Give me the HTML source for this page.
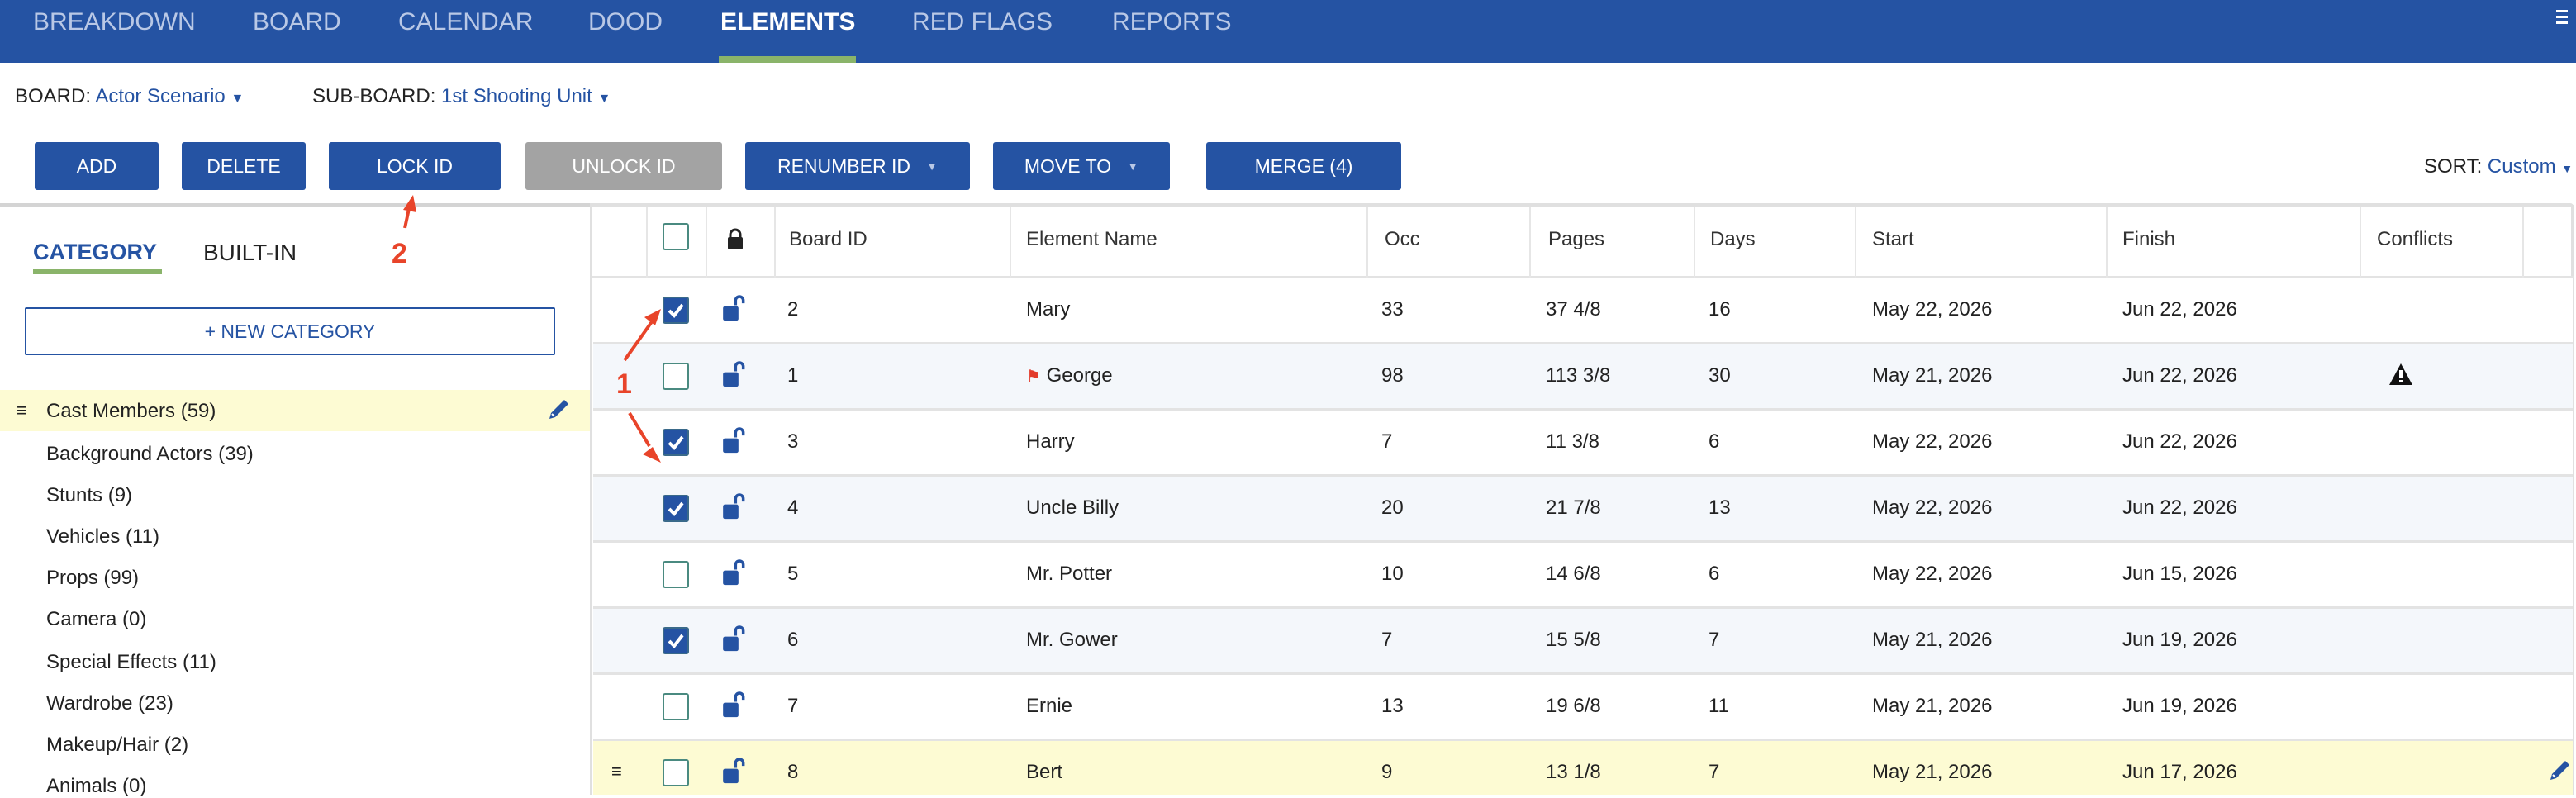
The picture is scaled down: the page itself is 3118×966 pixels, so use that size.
<!DOCTYPE html>
<html><head><meta charset="utf-8"><style>
*{margin:0;padding:0;box-sizing:border-box}
body{width:3118px;height:962px;overflow:hidden;background:#fff;font-family:"Liberation Sans",Arial,sans-serif;color:#222;position:relative}
.a{position:absolute;white-space:nowrap}
.nav{position:absolute;left:0;top:0;width:3118px;height:76px;background:#2553a3}
.nt{position:absolute;top:8px;font-size:30px;color:#b9c8e6}
.btn{position:absolute;top:172px;height:58px;background:#2553a3;color:#fff;font-size:23px;border-radius:3px;display:flex;align-items:center;justify-content:center}
.blue{color:#2553a3}
.cat{position:absolute;left:56px;font-size:24px;color:#222}
.hd{position:absolute;top:276px;font-size:24px;color:#333}
.vl{position:absolute;top:250px;width:2px;height:86px;background:#e6e6e6}
.row{position:absolute;left:718px;width:2396px;height:80px;border-bottom:3px solid #e3e3e3}
.cell{position:absolute;top:24px;font-size:24px;color:#222}
.cb{position:absolute;left:84px;top:22px;width:32px;height:33px;border:2px solid #4a8a80;border-radius:3px;background:#fff}
.cb.on{background:#2553a3;border-color:#3a6a8a}
.lk{position:absolute;left:156px;top:18px}
</style></head><body>
<div class="nav">
<span class="nt" style="left:40px;top:10px">BREAKDOWN</span>
<span class="nt" style="left:306px;top:10px">BOARD</span>
<span class="nt" style="left:482px;top:10px">CALENDAR</span>
<span class="nt" style="left:712px;top:10px">DOOD</span>
<span class="nt" style="left:872px;top:10px;color:#fff;font-weight:bold">ELEMENTS</span>
<span class="nt" style="left:1104px;top:10px">RED FLAGS</span>
<span class="nt" style="left:1346px;top:10px">REPORTS</span>
<div class="a" style="left:870px;top:68px;width:166px;height:8px;background:#8ab46a"></div>
<div class="a" style="left:3094px;top:12px;width:14px;height:3px;background:#fff"></div>
<div class="a" style="left:3094px;top:19px;width:14px;height:3px;background:#fff"></div>
<div class="a" style="left:3094px;top:26px;width:14px;height:3px;background:#fff"></div>
</div>
<div class="a" style="left:18px;top:103px;font-size:24px">BOARD: <span class="blue">Actor Scenario</span> <span class="blue" style="font-size:16px">▼</span></div>
<div class="a" style="left:378px;top:103px;font-size:24px">SUB-BOARD: <span class="blue">1st Shooting Unit</span> <span class="blue" style="font-size:16px">▼</span></div>
<div class="btn" style="left:42px;width:150px">ADD</div>
<div class="btn" style="left:220px;width:150px">DELETE</div>
<div class="btn" style="left:398px;width:208px">LOCK ID</div>
<div class="btn" style="left:636px;width:238px;background:#a3a3a3">UNLOCK ID</div>
<div class="btn" style="left:902px;width:272px">RENUMBER ID&nbsp;&nbsp;&nbsp;<span style="font-size:14px;color:#b9c8e6">▼</span></div>
<div class="btn" style="left:1202px;width:214px">MOVE TO&nbsp;&nbsp;&nbsp;<span style="font-size:14px;color:#b9c8e6">▼</span></div>
<div class="btn" style="left:1460px;width:236px">MERGE (4)</div>
<div class="a" style="left:2934px;top:188px;font-size:24px">SORT: <span class="blue">Custom</span> <span class="blue" style="font-size:14px">▼</span></div>
<!-- left panel -->
<div class="a" style="left:0;top:246px;width:714px;height:4px;background:#d4d4d4"></div>
<div class="a" style="left:714px;top:246px;width:3px;height:716px;background:#e0e0e0"></div>
<div class="a" style="left:40px;top:290px;font-size:27px;font-weight:bold;color:#2553a3">CATEGORY</div>
<div class="a" style="left:40px;top:326px;width:156px;height:6px;background:#8ab46a"></div>
<div class="a" style="left:246px;top:290px;font-size:28px;color:#222">BUILT-IN</div>
<div class="a" style="left:30px;top:372px;width:642px;height:58px;border:2px solid #2553a3;border-radius:2px;color:#2553a3;font-size:23px;display:flex;align-items:center;justify-content:center">+ NEW CATEGORY</div>
<div class="a" style="left:0;top:472px;width:714px;height:50px;background:#fdfbd3"></div>
<div class="a" style="left:20px;top:484px;font-size:22px">≡</div>
<div class="cat" style="top:484px">Cast Members (59)</div>
<svg class="a" style="left:662px;top:482px" width="28" height="28" viewBox="0 0 28 28"><path d="M21 2l5 5-16 16-7 2 2-7z" fill="#2553a3"/><path d="M6 19l3 3" stroke="#fff" stroke-width="2"/></svg>
<div class="cat" style="top:536px">Background Actors (39)</div>
<div class="cat" style="top:586px">Stunts (9)</div>
<div class="cat" style="top:636px">Vehicles (11)</div>
<div class="cat" style="top:686px">Props (99)</div>
<div class="cat" style="top:736px">Camera (0)</div>
<div class="cat" style="top:788px">Special Effects (11)</div>
<div class="cat" style="top:838px">Wardrobe (23)</div>
<div class="cat" style="top:888px">Makeup/Hair (2)</div>
<div class="cat" style="top:938px">Animals (0)</div>
<!-- table header -->
<div class="a" style="left:717px;top:246px;width:2398px;height:4px;background:#e0e0e0;border-top-right-radius:6px"></div>
<div class="a" style="left:3112px;top:248px;width:3px;height:714px;background:#e0e0e0"></div>
<div class="a" style="left:717px;top:334px;width:2398px;height:3px;background:#e3e3e3"></div>
<div class="vl" style="left:782px"></div><div class="vl" style="left:854px"></div><div class="vl" style="left:937px"></div><div class="vl" style="left:1222px"></div><div class="vl" style="left:1654px"></div><div class="vl" style="left:1851px"></div><div class="vl" style="left:2050px"></div><div class="vl" style="left:2245px"></div><div class="vl" style="left:2549px"></div><div class="vl" style="left:2856px"></div><div class="vl" style="left:3053px"></div>
<div class="a" style="left:802px;top:270px;width:32px;height:33px;border:2px solid #4a8a80;border-radius:3px"></div>
<svg class="a" style="left:880px;top:276px" width="20" height="26" viewBox="0 0 20 26"><path d="M4 12V8a6 6 0 0112 0v4" stroke="#222" stroke-width="3" fill="none"/><rect x="1" y="11" width="18" height="15" rx="2" fill="#222"/></svg>
<div class="hd" style="left:955px">Board ID</div>
<div class="hd" style="left:1242px">Element Name</div>
<div class="hd" style="left:1676px">Occ</div>
<div class="hd" style="left:1874px">Pages</div>
<div class="hd" style="left:2070px">Days</div>
<div class="hd" style="left:2266px">Start</div>
<div class="hd" style="left:2569px">Finish</div>
<div class="hd" style="left:2877px">Conflicts</div>
<!-- rows -->
<div class="row" style="top:337px;background:#fff"><div class="cb on"><svg width="28" height="29" viewBox="0 0 28 29"><path d="M6 15l6 6 10-13" stroke="#fff" stroke-width="4" fill="none"/></svg></div><svg class="lk" width="28" height="36" viewBox="0 0 24 30"><path d="M14 12V7a4 4 0 018 0v3" stroke="#2553a3" stroke-width="3" fill="none"/><rect x="1" y="13" width="16" height="15" rx="2" fill="#2553a3"/></svg><span class="cell" style="left:235px">2</span><span class="cell" style="left:524px">Mary</span><span class="cell" style="left:954px">33</span><span class="cell" style="left:1153px">37 4/8</span><span class="cell" style="left:1350px">16</span><span class="cell" style="left:1548px">May 22, 2026</span><span class="cell" style="left:1851px">Jun 22, 2026</span></div>
<div class="row" style="top:417px;background:#f4f7fb"><div class="cb"></div><svg class="lk" width="28" height="36" viewBox="0 0 24 30"><path d="M14 12V7a4 4 0 018 0v3" stroke="#2553a3" stroke-width="3" fill="none"/><rect x="1" y="13" width="16" height="15" rx="2" fill="#2553a3"/></svg><span class="cell" style="left:235px">1</span><span class="cell" style="left:524px"><span style="color:#e23b2b;font-size:20px">⚑</span> George</span><span class="cell" style="left:954px">98</span><span class="cell" style="left:1153px">113 3/8</span><span class="cell" style="left:1350px">30</span><span class="cell" style="left:1548px">May 21, 2026</span><span class="cell" style="left:1851px">Jun 22, 2026</span><svg class="a" style="left:2173px;top:22px" width="30" height="28" viewBox="0 0 30 28"><path d="M15 1L29 27H1z" fill="#111"/><rect x="13" y="9" width="4" height="10" fill="#fff"/><rect x="13" y="21" width="4" height="3" fill="#fff"/></svg></div>
<div class="row" style="top:497px;background:#fff"><div class="cb on"><svg width="28" height="29" viewBox="0 0 28 29"><path d="M6 15l6 6 10-13" stroke="#fff" stroke-width="4" fill="none"/></svg></div><svg class="lk" width="28" height="36" viewBox="0 0 24 30"><path d="M14 12V7a4 4 0 018 0v3" stroke="#2553a3" stroke-width="3" fill="none"/><rect x="1" y="13" width="16" height="15" rx="2" fill="#2553a3"/></svg><span class="cell" style="left:235px">3</span><span class="cell" style="left:524px">Harry</span><span class="cell" style="left:954px">7</span><span class="cell" style="left:1153px">11 3/8</span><span class="cell" style="left:1350px">6</span><span class="cell" style="left:1548px">May 22, 2026</span><span class="cell" style="left:1851px">Jun 22, 2026</span></div>
<div class="row" style="top:577px;background:#f4f7fb"><div class="cb on"><svg width="28" height="29" viewBox="0 0 28 29"><path d="M6 15l6 6 10-13" stroke="#fff" stroke-width="4" fill="none"/></svg></div><svg class="lk" width="28" height="36" viewBox="0 0 24 30"><path d="M14 12V7a4 4 0 018 0v3" stroke="#2553a3" stroke-width="3" fill="none"/><rect x="1" y="13" width="16" height="15" rx="2" fill="#2553a3"/></svg><span class="cell" style="left:235px">4</span><span class="cell" style="left:524px">Uncle Billy</span><span class="cell" style="left:954px">20</span><span class="cell" style="left:1153px">21 7/8</span><span class="cell" style="left:1350px">13</span><span class="cell" style="left:1548px">May 22, 2026</span><span class="cell" style="left:1851px">Jun 22, 2026</span></div>
<div class="row" style="top:657px;background:#fff"><div class="cb"></div><svg class="lk" width="28" height="36" viewBox="0 0 24 30"><path d="M14 12V7a4 4 0 018 0v3" stroke="#2553a3" stroke-width="3" fill="none"/><rect x="1" y="13" width="16" height="15" rx="2" fill="#2553a3"/></svg><span class="cell" style="left:235px">5</span><span class="cell" style="left:524px">Mr. Potter</span><span class="cell" style="left:954px">10</span><span class="cell" style="left:1153px">14 6/8</span><span class="cell" style="left:1350px">6</span><span class="cell" style="left:1548px">May 22, 2026</span><span class="cell" style="left:1851px">Jun 15, 2026</span></div>
<div class="row" style="top:737px;background:#f4f7fb"><div class="cb on"><svg width="28" height="29" viewBox="0 0 28 29"><path d="M6 15l6 6 10-13" stroke="#fff" stroke-width="4" fill="none"/></svg></div><svg class="lk" width="28" height="36" viewBox="0 0 24 30"><path d="M14 12V7a4 4 0 018 0v3" stroke="#2553a3" stroke-width="3" fill="none"/><rect x="1" y="13" width="16" height="15" rx="2" fill="#2553a3"/></svg><span class="cell" style="left:235px">6</span><span class="cell" style="left:524px">Mr. Gower</span><span class="cell" style="left:954px">7</span><span class="cell" style="left:1153px">15 5/8</span><span class="cell" style="left:1350px">7</span><span class="cell" style="left:1548px">May 21, 2026</span><span class="cell" style="left:1851px">Jun 19, 2026</span></div>
<div class="row" style="top:817px;background:#fff"><div class="cb"></div><svg class="lk" width="28" height="36" viewBox="0 0 24 30"><path d="M14 12V7a4 4 0 018 0v3" stroke="#2553a3" stroke-width="3" fill="none"/><rect x="1" y="13" width="16" height="15" rx="2" fill="#2553a3"/></svg><span class="cell" style="left:235px">7</span><span class="cell" style="left:524px">Ernie</span><span class="cell" style="left:954px">13</span><span class="cell" style="left:1153px">19 6/8</span><span class="cell" style="left:1350px">11</span><span class="cell" style="left:1548px">May 21, 2026</span><span class="cell" style="left:1851px">Jun 19, 2026</span></div>
<div class="row" style="top:897px;background:#fdfbd3;border:none;height:65px"><span class="cell" style="left:22px;font-size:22px">≡</span><div class="cb"></div><svg class="lk" width="28" height="36" viewBox="0 0 24 30"><path d="M14 12V7a4 4 0 018 0v3" stroke="#2553a3" stroke-width="3" fill="none"/><rect x="1" y="13" width="16" height="15" rx="2" fill="#2553a3"/></svg><span class="cell" style="left:235px">8</span><span class="cell" style="left:524px">Bert</span><span class="cell" style="left:954px">9</span><span class="cell" style="left:1153px">13 1/8</span><span class="cell" style="left:1350px">7</span><span class="cell" style="left:1548px">May 21, 2026</span><span class="cell" style="left:1851px">Jun 17, 2026</span><svg class="a" style="left:2366px;top:22px" width="28" height="28" viewBox="0 0 28 28"><path d="M21 2l5 5-16 16-7 2 2-7z" fill="#2553a3"/><path d="M6 19l3 3" stroke="#fff" stroke-width="2"/></svg></div>
<!-- annotations -->
<svg class="a" style="left:0;top:0" width="3118" height="962">
<g stroke="#e8442a" stroke-width="4" fill="#e8442a">
<line x1="490" y1="276" x2="496" y2="248"/><path d="M500 236l-12 18 16 3z" stroke="none"/>
<line x1="756" y1="436" x2="790" y2="388"/><path d="M800 374l-20 10 13 10z" stroke="none"/>
<line x1="762" y1="500" x2="786" y2="540"/><path d="M800 560l-22-10 12-9z" stroke="none"/>
</g>
<text x="474" y="318" font-family="Liberation Sans" font-size="34" font-weight="bold" fill="#e8442a">2</text>
<text x="746" y="476" font-family="Liberation Sans" font-size="34" font-weight="bold" fill="#e8442a">1</text>
</svg>
</body></html>
